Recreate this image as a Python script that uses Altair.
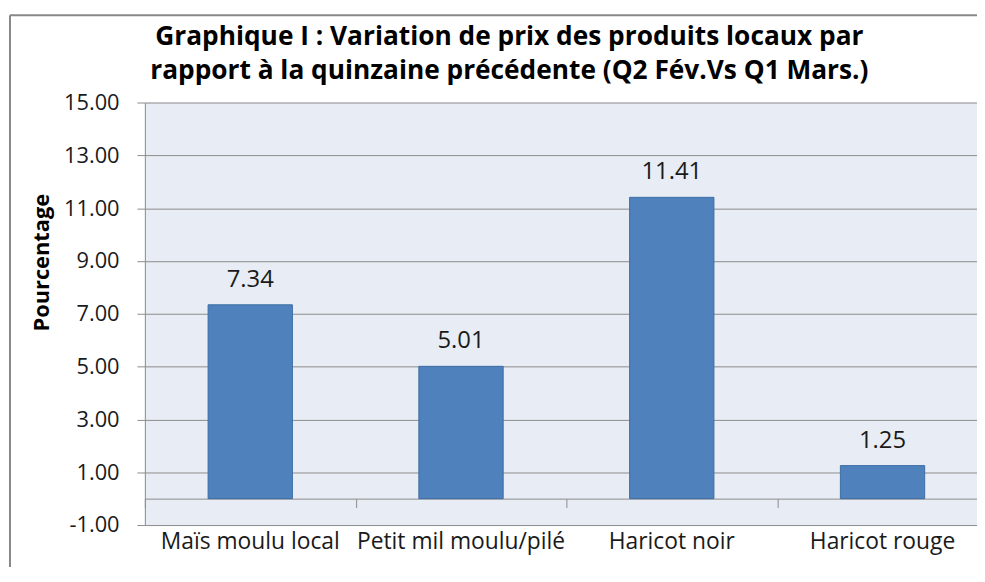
import altair as alt
import pandas as pd

categories = ["Maïs moulu local", "Petit mil moulu/pilé", "Haricot noir", "Haricot rouge"]
values = [7.34, 5.01, 11.41, 1.25]
y_ticks = [-1, 1, 3, 5, 7, 9, 11, 13, 15]
title_lines = [
    "Graphique I : Variation de prix des produits locaux par",
    "rapport à la quinzaine précédente (Q2 Fév.Vs Q1 Mars.)",
]
y_title = "Pourcentage"

df = pd.DataFrame({"cat": categories, "val": values})

FONT = "Open Sans"
GRAY = "#8C8C8C"
PLOT_H = 426
ZERO_OFFSET = -PLOT_H / 16.0  # zero line sits 1 unit above the -1 bottom

xscale = alt.Scale(domain=categories, range=[0, 850], paddingInner=0, paddingOuter=0)
yscale = alt.Scale(domain=[-1, 15], nice=False, zero=False)

base = alt.Chart(df)

bars = base.mark_bar(
    color="#4F81BD", stroke="#3D6CA3", strokeWidth=1,
    width=alt.RelativeBandSize(0.4),
).encode(
    x=alt.X("cat:N", scale=xscale, sort=categories,
            axis=alt.Axis(orient="bottom", title=None, labelAngle=0, domain=False,
                          ticks=False, tickSize=0, grid=False, labelFont=FONT,
                          labelFontSize=23, labelColor="#1A1A1A", labelPadding=24,
                          labelBaseline="alphabetic", labelLimit=400)),
    y=alt.Y("val:Q", scale=yscale,
            axis=alt.Axis(values=y_ticks, title=y_title,
                          labelExpr="replace(format(datum.value, '.2f'), '\u2212', '-')",
                          titleFont=FONT, titleFontSize=22, titleFontWeight="bold",
                          titleColor="#000000", titleAngle=-90, titleX=-104, titleY=161,
                          titleAlign="center", titleBaseline="middle",
                          labelFont=FONT, labelFontSize=22, labelColor="#1A1A1A",
                          labelPadding=18, tickSize=8, tickColor=GRAY,
                          domainColor=GRAY, gridColor=GRAY, grid=True)),
    y2=alt.datum(0),
)

labels = base.mark_text(baseline="alphabetic", dy=-18, font=FONT, fontSize=24,
                        color="#1A1A1A").encode(
    x=alt.X("cat:N", scale=xscale, sort=categories,
            axis=alt.Axis(orient="bottom", offset=ZERO_OFFSET, labels=False, title=None,
                          tickBand="extent", tickSize=9, tickColor=GRAY,
                          domainColor=GRAY, grid=False)),
    y=alt.Y("val:Q", scale=yscale),
    text=alt.Text("val:Q", format=".2f"),
)

frame_df = pd.DataFrame({"k": [0]})
frame_top = alt.Chart(frame_df).mark_rule(color="#888888", strokeWidth=2).encode(
    x=alt.value(-136), x2=alt.value(900), y=alt.value(-88))
frame_left = alt.Chart(frame_df).mark_rule(color="#888888", strokeWidth=2).encode(
    x=alt.value(-136), y=alt.value(-88), y2=alt.value(600))

chart = alt.layer(bars, labels, frame_top, frame_left).resolve_axis(
    x="independent"
).properties(
    width=839,
    height=PLOT_H,
    autosize=alt.AutoSizeParams(type="none"),
    padding={"left": 138, "top": 93, "right": 0, "bottom": 40},
    title=alt.TitleParams(text=title_lines, font=FONT, fontSize=26.5, fontWeight="bold",
                          color="#000000", anchor="middle", frame="group", dx=-52,
                          baseline="alphabetic", lineHeight=34, offset=0, dy=92),
).configure_view(
    fill="#E8ECF4", stroke=None
)

chart.save("out.html", embed_options={"renderer": "svg", "actions": False})
